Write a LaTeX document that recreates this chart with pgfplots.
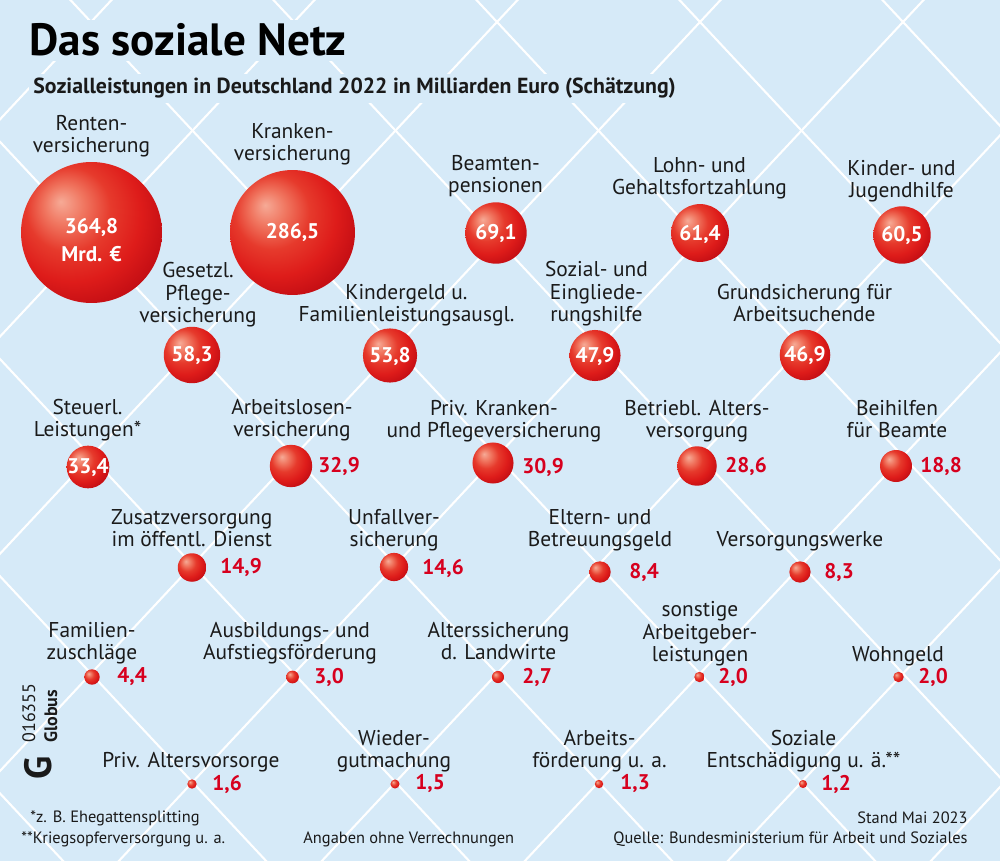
\documentclass[border=0pt]{standalone}
\usepackage{fontspec}
\setmainfont{PT Sans}
\usepackage{pgfplots}
\pgfplotsset{compat=1.18}
\usepackage{pgfplotstable}
\definecolor{bg}{RGB}{214,234,248}
\definecolor{valred}{RGB}{215,0,30}
\definecolor{txt}{RGB}{26,26,26}
\definecolor{bzero}{RGB}{246,170,150}
\definecolor{bone}{RGB}{240,118,96}
\definecolor{btwo}{RGB}{230,58,44}
\definecolor{bthree}{RGB}{222,28,26}
\definecolor{bfour}{RGB}{196,14,20}
\definecolor{bfive}{RGB}{145,8,14}
\pgfdeclareradialshading{redball}{\pgfpoint{-11bp}{11bp}}{color(0bp)=(bzero); color(7bp)=(bone); color(15bp)=(btwo); color(24bp)=(bthree); color(32bp)=(bfour); color(40bp)=(bfive); color(60bp)=(bfive)}
\pgfdeclareplotmark{redball}{\pgfpathcircle{\pgfpointorigin}{\pgfplotmarksize}\pgfshadepath{redball}{0}\pgfusepath{}}
\newcommand\lblfont{\fontsize{10.7}{11.3}\selectfont}
\newcommand\valfont{\bfseries\fontsize{10.6}{12}\selectfont}
\newcommand\footfont{\fontsize{8.2}{9}\selectfont}
\tikzset{lbl/.style={anchor=south, align=center, font=\lblfont, inner sep=0pt, text=txt}}

\pgfplotstableread{
x y v
91.5 232.5 364.8
292.5 232.5 286.5
496 233 69.1
700 233 61.4
902 235 60.5
192 355 58.3
390 355.5 53.8
595 355.5 47.9
805 355 46.9
88 467 33.4
291 466 32.9
493 463 30.9
697 466 28.6
896 466 18.8
192 567.5 14.9
394 567 14.6
600 572 8.4
800 572 8.3
92 677 4.4
292.5 677 3.0
498 677 2.7
699.5 677 2.0
898.5 677 2.0
192 784 1.6
395 784 1.5
599 784 1.3
803 784 1.2
}\bubbles

\pgfplotstableread[col sep=semicolon]{
x;y;lab
91.5;227.5;364,8
91.5;254.5;Mrd. €
292.5;233;286,5
496;234;69,1
700;234.5;61,4
902;236;60,5
192;356;58,3
390;356.5;53,8
595;356.5;47,9
805;356;46,9
88;467.5;33,4
}\inlabels

\pgfplotstableread{
x y lab
318 466 32,9
522 467 30,9
725 466 28,6
920 466 18,8
220 567.5 14,9
422 568 14,6
629 572 8,4
824 572 8,3
117 677 4,4
314 677 3,0
522 677 2,7
718 677 2,0
918 677 2,0
212 784 1,6
415 784 1,5
620 784 1,3
821 784 1,2
}\outlabels

\begin{document}
\begin{tikzpicture}
\begin{scope}[x=0.5pt, y=-0.5pt, shift={(0,430.5pt)}]
\fill[bg] (0,0) rectangle (1000,861);
\clip (0,0) rectangle (1000,861);
\foreach \m in {-5,...,5} {
  \draw[white, line width=1.05pt] ({91+203*\m-101.5},{22-108.6}) -- ({91+203*\m+913.5},{22+977.4});
}
\foreach \m in {0,...,10} {
  \draw[white, line width=1.05pt] ({91+203*\m+101.5},{22-108.6}) -- ({91+203*\m-913.5},{22+977.4});
}
\end{scope}
\begin{axis}[
  x=0.5pt, y=0.5pt, y dir=reverse,
  xmin=0, xmax=1000, ymin=0, ymax=861,
  hide axis, clip=false,
]
% title
\node[anchor=base west, fill=bg, inner sep=2pt, font=\bfseries\fontsize{22.6}{24}\selectfont, text=black] at (axis cs:25,56) {Das soziale Netz};
\node[anchor=base west, fill=bg, inner sep=2pt, font=\bfseries\fontsize{10.9}{12}\selectfont, text=txt] at (axis cs:29,94) {Sozialleistungen in Deutschland 2022 in Milliarden Euro (Schätzung)};

% bubbles
\addplot[scatter, only marks, mark=redball,
  visualization depends on={1.8455*sqrt(\thisrow{v}) \as \rad},
  scatter/@pre marker code/.append style={/tikz/mark size=\rad}]
  table[x=x, y=y] {\bubbles};

% value labels inside
\addplot[only marks, mark=none, point meta=explicit symbolic, nodes near coords,
  every node near coord/.append style={anchor=center, inner sep=0pt, text=white, font=\valfont}]
  table[x=x, y=y, meta=lab] {\inlabels};
% value labels outside
\addplot[only marks, mark=none, point meta=explicit symbolic, nodes near coords,
  every node near coord/.append style={anchor=west, inner sep=0pt, text=valred, font=\valfont}]
  table[x=x, y=y, meta=lab] {\outlabels};

% category labels
\node[lbl] at (axis cs:91.5,160) {Renten-\\versicherung\strut};
\node[lbl] at (axis cs:292.5,168) {Kranken-\\versicherung\strut};
\node[lbl] at (axis cs:495.5,200) {Beamten-\\pensionen\strut};
\node[lbl] at (axis cs:699.5,202) {Lohn- und\\Gehaltsfortzahlung\strut};
\node[lbl] at (axis cs:901.5,205) {Kinder- und\\Jugendhilfe\strut};
\node[lbl] at (axis cs:198,330) {Gesetzl.\\Pflege-\\versicherung\strut};
\node[lbl] at (axis cs:406.5,329) {Kindergeld u.\\Familienleistungsausgl.\strut};
\node[lbl] at (axis cs:596.5,329) {Sozial- und\\Eingliede-\\rungshilfe\strut};
\node[lbl] at (axis cs:804.5,329) {Grundsicherung für\\Arbeitsuchende\strut};
\node[lbl] at (axis cs:87.5,444) {Steuerl.\\Leistungen*\strut};
\node[lbl] at (axis cs:292,444) {Arbeitslosen-\\versicherung\strut};
\node[lbl] at (axis cs:494,445) {Priv. Kranken-\\und Pflegeversicherung\strut};
\node[lbl] at (axis cs:697,445) {Betriebl. Alters-\\versorgung\strut};
\node[lbl] at (axis cs:897,445) {Beihilfen\\für Beamte\strut};
\node[lbl] at (axis cs:191.7,554) {Zusatzversorgung\\im öffentl. Dienst\strut};
\node[lbl] at (axis cs:394,554) {Unfallver-\\sicherung\strut};
\node[lbl] at (axis cs:600,554) {Eltern- und\\Betreuungsgeld\strut};
\node[lbl] at (axis cs:800,554) {Versorgungswerke\strut};
\node[lbl] at (axis cs:92,667) {Familien-\\zuschläge\strut};
\node[lbl] at (axis cs:290,667) {Ausbildungs- und\\Aufstiegsförderung\strut};
\node[lbl] at (axis cs:498.5,667) {Alterssicherung\\d. Landwirte\strut};
\node[lbl] at (axis cs:700,669) {sonstige\\Arbeitgeber-\\leistungen\strut};
\node[lbl] at (axis cs:898,669) {Wohngeld\strut};
\node[lbl] at (axis cs:191,775) {Priv. Altersvorsorge\strut};
\node[lbl] at (axis cs:394,775) {Wieder-\\gutmachung\strut};
\node[lbl] at (axis cs:599.5,775) {Arbeits-\\förderung u. a.\strut};
\node[lbl] at (axis cs:803.5,775) {Soziale\\Entschädigung u. ä.**\strut};

% footer
\node[anchor=base west, inner sep=0pt, font=\footfont, text=txt] at (axis cs:30,822) {*z. B. Ehegattensplitting};
\node[anchor=base west, inner sep=0pt, font=\footfont, text=txt] at (axis cs:21,843) {**Kriegsopferversorgung u. a.};
\node[anchor=base west, inner sep=0pt, font=\footfont, text=txt] at (axis cs:303,843) {Angaben ohne Verrechnungen};
\node[anchor=base east, inner sep=0pt, font=\footfont, text=txt] at (axis cs:968,823) {Stand Mai 2023};
\node[anchor=base east, inner sep=0pt, font=\footfont, text=txt] at (axis cs:968,843) {Quelle: Bundesministerium für Arbeit und Soziales};

% Globus logo
\node[rotate=90, anchor=base west, inner sep=0pt, font=\fontsize{9}{9}\selectfont, text=txt] at (axis cs:35,743) {016355};
\node[rotate=90, anchor=base west, inner sep=0pt, font=\bfseries\fontsize{9}{9}\selectfont, text=txt] at (axis cs:57,743) {Globus};
\node[rotate=90, inner sep=0pt, font=\bfseries\fontsize{19}{19}\selectfont, text=txt] at (axis cs:38,768) {G};
\end{axis}
\end{tikzpicture}
\end{document}
